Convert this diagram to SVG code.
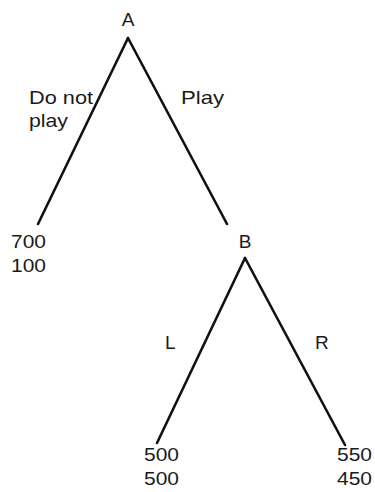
<svg xmlns="http://www.w3.org/2000/svg" width="375" height="492" viewBox="0 0 375 492">
  <style>
    text { font-family: "Liberation Sans", Arial, sans-serif; font-size: 19px; fill: #1a1a1a; }
    .edge { stroke: #111; stroke-width: 2.6; fill: none; stroke-linecap: round; }
  </style>
  <rect width="375" height="492" fill="#fff"/>
  <g id="connectors">
    <line class="edge" x1="128" y1="38" x2="38" y2="224"/>
    <line class="edge" x1="128" y1="38" x2="227" y2="224"/>
    <line class="edge" x1="245" y1="258" x2="157" y2="443"/>
    <line class="edge" x1="245" y1="258" x2="345" y2="445"/>
  </g>
  <g id="node-A">
    <text x="128" y="26" text-anchor="middle">A</text>
  </g>
  <g id="label-do-not-play">
    <text x="29" y="104" textLength="64" lengthAdjust="spacingAndGlyphs">Do not</text>
    <text x="29" y="127" textLength="39" lengthAdjust="spacingAndGlyphs">play</text>
  </g>
  <g id="label-play">
    <text x="181" y="104" textLength="43" lengthAdjust="spacingAndGlyphs">Play</text>
  </g>
  <g id="leaf-700-100">
    <text x="11" y="248" textLength="35" lengthAdjust="spacingAndGlyphs">700</text>
    <text x="11" y="272" textLength="35" lengthAdjust="spacingAndGlyphs">100</text>
  </g>
  <g id="node-B">
    <text x="245" y="248" text-anchor="middle">B</text>
  </g>
  <g id="label-L">
    <text x="165" y="349">L</text>
  </g>
  <g id="label-R">
    <text x="315" y="349">R</text>
  </g>
  <g id="leaf-500-500">
    <text x="144" y="461" textLength="35" lengthAdjust="spacingAndGlyphs">500</text>
    <text x="144" y="485" textLength="35" lengthAdjust="spacingAndGlyphs">500</text>
  </g>
  <g id="leaf-550-450">
    <text x="337" y="461" textLength="35" lengthAdjust="spacingAndGlyphs">550</text>
    <text x="337" y="485" textLength="35" lengthAdjust="spacingAndGlyphs">450</text>
  </g>
</svg>
